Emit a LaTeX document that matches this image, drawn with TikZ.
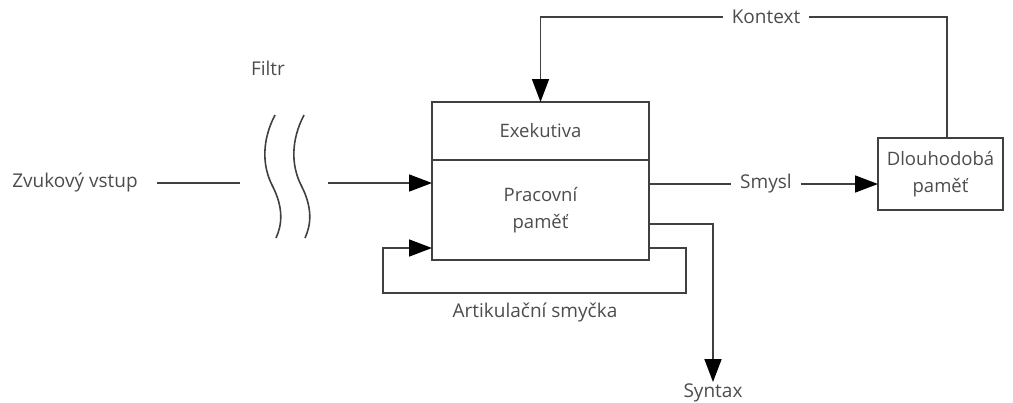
\documentclass[tikz,border=0pt]{standalone}
\usepackage{fontspec}
\setmainfont{Open Sans}
\usetikzlibrary{positioning,arrows.meta}

\begin{document}
\begin{tikzpicture}[
  x=1pt, y=-1pt,
  line width=1.6pt, draw=black!75,
  box/.style={draw, rectangle, minimum width=217pt, outer sep=0pt, align=center, text=black!70,
    font=\fontsize{18.5}{27}\selectfont},
  lbl/.style={text=black!70, font=\fontsize{19}{22}\selectfont},
  arr/.style={-{Triangle[length=23pt,width=17pt,color=black]}},
]
\useasboundingbox (0,0) rectangle (1013,402);

% main store
\node (exec) [box, minimum height=58pt] at (540.5,131) {Exekutiva};
\node (work) [box, minimum height=100pt, below=0pt of exec] {Pracovní\\paměť};
\node (ltm) [box, minimum width=125pt, minimum height=72pt] at (940.5,174) {Dlouhodobá\\paměť};

% labels
\node (input) [lbl] at (75,183) {Zvukový vstup};
\node (filtr) [lbl] at (268,68) {Filtr};
\node (smysl) [lbl, inner sep=8pt] at (766,184) {Smysl};
\node (kontext) [lbl, inner sep=8pt] at (766,17) {Kontext};
\node (artik) [lbl] at (535,312) {Artikulační smyčka};
\node (syntax) [lbl, inner sep=1pt] at (713,393) {Syntax};

\coordinate (filtL) at (240,183);
\coordinate (filtR) at (328,183);
\coordinate (loopR) at (686,293);
\coordinate (loopL) at (383,248);

% filter
\draw (275,115) .. controls (262,140) and (262,165) .. (272,185)
  .. controls (284,208) and (282,225) .. (276,238);
\draw (304,115) .. controls (291,140) and (291,165) .. (301,185)
  .. controls (313,208) and (311,225) .. (305,238);

\draw (157,183) -- (filtL);
\draw[arr] (filtR) -- (filtR -| work.west);

\draw (smysl.west -| work.east) -- (smysl.west);
\draw[arr] (smysl.east) -- (ltm.west |- smysl);

\draw ([xshift=6.5pt]ltm.north) |- (kontext.east);
\draw[arr] (kontext.west) -| (exec.north);

\draw[arr] ([yshift=-14pt]work.east) -| (syntax.north);
\draw[arr] ([yshift=-38pt]work.east) -| (loopR) -| (loopL) -- (loopL -| work.west);

\end{tikzpicture}
\end{document}
